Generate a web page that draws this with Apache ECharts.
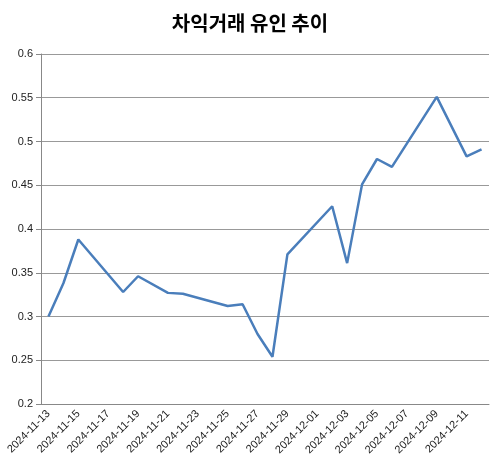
<!DOCTYPE html><html><head><meta charset="utf-8"><script src="https://cdn.jsdelivr.net/npm/echarts@6/dist/echarts.min.js"></script></head><body style="margin:0"><div id="c" style="width:500px;height:473px"></div><script>
const categories=['2024-11-13','2024-11-14','2024-11-15','2024-11-16','2024-11-17','2024-11-18','2024-11-19','2024-11-20','2024-11-21','2024-11-22','2024-11-23','2024-11-24','2024-11-25','2024-11-26','2024-11-27','2024-11-28','2024-11-29','2024-11-30','2024-12-01','2024-12-02','2024-12-03','2024-12-04','2024-12-05','2024-12-06','2024-12-07','2024-12-08','2024-12-09','2024-12-10','2024-12-11','2024-12-12'];
const values=[0.300,0.338,0.388,null,null,0.328,0.346,null,0.327,0.326,null,null,0.312,0.314,0.280,0.254,0.371,null,null,0.426,0.361,0.451,0.480,0.471,null,null,0.551,null,0.483,0.491];
const c=echarts.init(document.getElementById('c'));
c.setOption({animation:false,
title:{text:'차익거래 유인 추이',left:'center',top:8,textStyle:{fontSize:20,fontWeight:'bold',color:'#000',fontFamily:'Noto Sans CJK KR'}},
grid:{left:41,right:11,top:54,bottom:69},
xAxis:{type:'category',data:categories,boundaryGap:true,axisLine:{lineStyle:{color:'#888'}},axisTick:{interval:1,lineStyle:{color:'#888'}},
axisLabel:{interval:1,rotate:45,fontSize:11,color:'#222',margin:8}},
yAxis:{type:'value',min:0.2,max:0.6,interval:0.05,axisLine:{show:true,lineStyle:{color:'#888'}},axisTick:{show:true,lineStyle:{color:'#888'}},
splitLine:{lineStyle:{color:'#999'}},axisLabel:{fontSize:11,color:'#222',formatter:v=>String(+v.toFixed(2))}},
series:[{type:'line',data:values,connectNulls:true,showSymbol:false,lineStyle:{color:'#4a7ebb',width:2.5}}]});
</script></body></html>
